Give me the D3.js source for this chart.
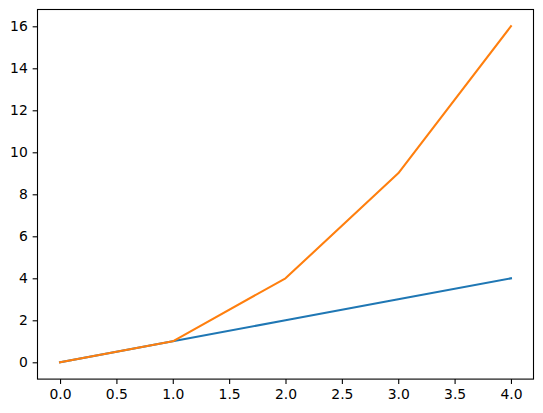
<!DOCTYPE html>
<html>
<head>
<meta charset="utf-8">
<script src="https://cdn.jsdelivr.net/npm/d3@7"></script>
<style>
  html, body { margin: 0; padding: 0; background: #fff; }
  svg { display: block; }
  .tick text { font-family: "DejaVu Sans", sans-serif; font-size: 13.9px; fill: #000; }
</style>
</head>
<body>
<div id="chart"></div>
<script>
(function() {
  const xValues = [0, 1, 2, 3, 4];
  const linear = [0, 1, 2, 3, 4];
  const squares = [0, 1, 4, 9, 16];
  const xTicks = [0, 0.5, 1, 1.5, 2, 2.5, 3, 3.5, 4];
  const yTicks = [0, 2, 4, 6, 8, 10, 12, 14, 16];

  const width = 543, height = 413;
  const margin = { left: 37.5, top: 9.5 };
  const innerWidth = 496, innerHeight = 369.6;
  const tickLen = 4.86, pad = 4.86;

  const svg = d3.select("#chart").append("svg")
    .attr("width", width)
    .attr("height", height);

  const g = svg.append("g")
    .attr("transform", `translate(${margin.left},${margin.top})`);

  const x = d3.scaleLinear().domain([-0.2, 4.2]).range([0, innerWidth]);
  const y = d3.scaleLinear().domain([-0.8, 16.8]).range([innerHeight, 0]);

  const line = d3.line().x(d => x(d[0])).y(d => y(d[1]));

  [[linear, "#1f77b4"], [squares, "#ff7f0e"]].forEach(([vals, color]) => {
    g.append("path")
      .datum(xValues.map((v, i) => [v, vals[i]]))
      .attr("fill", "none")
      .attr("stroke", color)
      .attr("stroke-width", 2.08)
      .attr("stroke-linejoin", "round")
      .attr("stroke-linecap", "square")
      .attr("d", line);
  });

  const xAxis = g.append("g")
    .attr("transform", `translate(0,${innerHeight})`)
    .call(d3.axisBottom(x).tickValues(xTicks).tickFormat(d3.format(".1f"))
      .tickSize(tickLen).tickPadding(pad));
  xAxis.select(".domain").remove();
  xAxis.selectAll(".tick line").attr("stroke-width", 1.1);

  const yAxis = g.append("g")
    .call(d3.axisLeft(y).tickValues(yTicks).tickFormat(d3.format("d"))
      .tickSize(tickLen).tickPadding(pad));
  yAxis.select(".domain").remove();
  yAxis.selectAll(".tick line").attr("stroke-width", 1.1);

  g.append("rect")
    .attr("x", 0).attr("y", 0)
    .attr("width", innerWidth).attr("height", innerHeight)
    .attr("fill", "none")
    .attr("stroke", "#000")
    .attr("stroke-width", 1.1);
})();
</script>
</body>
</html>
